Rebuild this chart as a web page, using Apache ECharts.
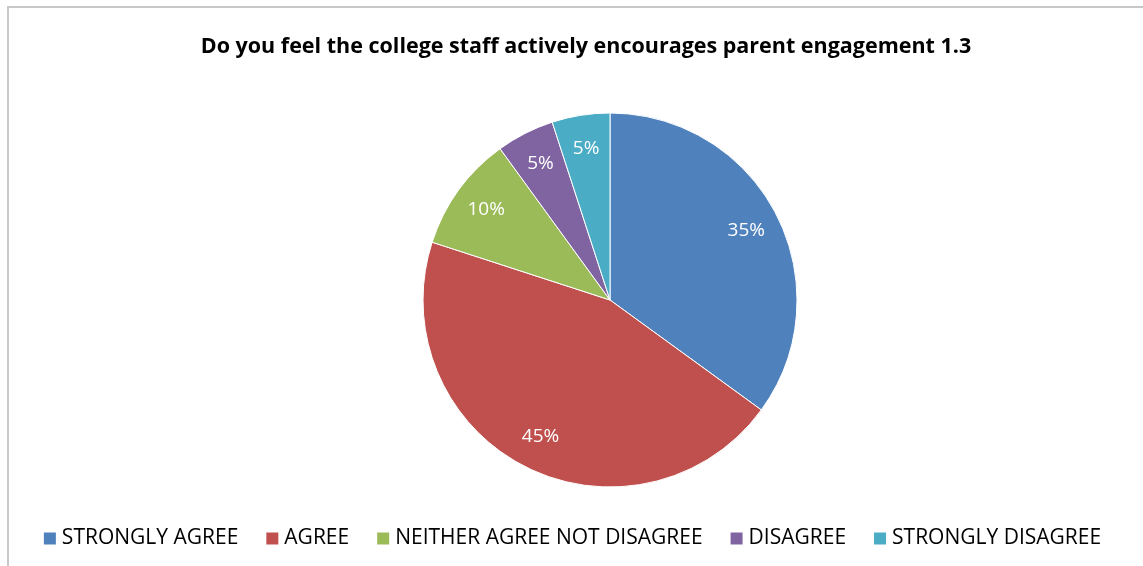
<!DOCTYPE html>
<html><head><meta charset="utf-8">
<script src="https://cdn.jsdelivr.net/npm/echarts@6/dist/echarts.min.js"></script>
<style>html,body{margin:0;padding:0;background:#fff}#c{width:1143px;height:566px}</style>
</head><body><div id="c"></div>
<script>
const categories = ['STRONGLY AGREE', 'AGREE', 'NEITHER AGREE NOT DISAGREE', 'DISAGREE', 'STRONGLY DISAGREE'];
const values = [35, 45, 10, 5, 5];
const colors = ['#4F81BD', '#C0504D', '#9BBB59', '#8064A2', '#4BACC6'];
const titleText = 'Do you feel the college staff actively encourages parent engagement 1.3';

const data = categories.map((n, i) => ({ name: n, value: values[i], itemStyle: { color: colors[i] } }));
const chart = echarts.init(document.getElementById('c'));
const font = '"Open Sans", "Liberation Sans", sans-serif';
chart.setOption({
  animation: false,
  title: { text: titleText, left: 581, top: 31, textAlign: 'center',
    textStyle: { fontFamily: font, fontWeight: 'bold', fontSize: 21.5, color: '#000' } },
  legend: { bottom: 12, left: 'center', itemWidth: 14, itemHeight: 14, itemGap: 26,
    icon: 'rect', textStyle: { fontFamily: font, fontSize: 21, color: '#000' }, data: categories },
  graphic: [{ type: 'rect', shape: { x: 8, y: 7, width: 1160, height: 600 },
    style: { fill: 'none', stroke: '#c8c8c8', lineWidth: 2 }, silent: true }],
  series: [
    { type: 'pie', center: [610, 300], radius: [0, 187], startAngle: 90, clockwise: true,
      data: data, label: { show: false }, labelLine: { show: false },
      itemStyle: { borderColor: '#fff', borderWidth: 1 }, emphasis: { disabled: true } },
    { type: 'pie', center: [610, 300], radius: [113, 187], startAngle: 90, clockwise: true,
      data: data.map(d => ({ name: d.name, value: d.value })), silent: true,
      itemStyle: { color: 'rgba(0,0,0,0)' }, labelLine: { show: false },
      label: { show: true, position: 'inside', formatter: '{c}%', color: '#fff',
        fontFamily: font, fontSize: 19 }, emphasis: { disabled: true } }
  ]
});
</script></body></html>
